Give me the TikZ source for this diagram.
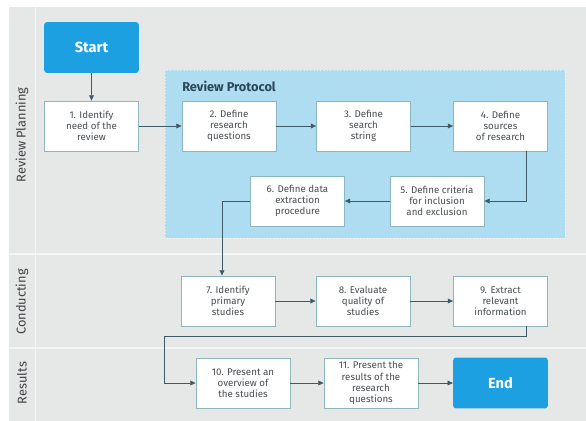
\documentclass[tikz,border=0pt]{standalone}
\usepackage{fontspec}
\setmainfont{Fira Sans}
\usetikzlibrary{arrows.meta,calc}

\definecolor{pagegray}{HTML}{E6E8E7}
\definecolor{lanesep}{HTML}{F4F5F5}
\definecolor{protocolblue}{HTML}{AEDDF1}
\definecolor{startblue}{HTML}{1DA0E2}
\definecolor{boxline}{HTML}{8DB7BE}
\definecolor{flowline}{HTML}{3E5A66}
\definecolor{textgray}{HTML}{4A4F52}
\definecolor{titlenavy}{HTML}{2C4757}

\tikzset{
  stepbox/.style={draw=boxline, line width=0.6pt, fill=white,
    minimum width=70.5pt, minimum height=37.5pt, inner sep=1pt,
    align=center, text=textgray, font=\fontsize{7.3}{8.4}\selectfont},
  termbox/.style={fill=startblue, rounded corners=2pt,
    minimum width=71pt, minimum height=38pt, inner sep=1pt,
    text=white, font=\fontsize{11}{12}\selectfont\bfseries},
  lanelabel/.style={rotate=90, text=textgray!85!black, font=\fontsize{9.6}{11}\selectfont\mdseries},
  flow/.style={draw=flowline, line width=0.6pt,
    -{Triangle[length=4pt,width=3.6pt]}}
}

\begin{document}
\begin{tikzpicture}[x=0.75pt,y=-0.75pt]
\useasboundingbox (0,0) rectangle (586,421);

% page background and swimlanes
\fill[white] (0,0) rectangle (586,421);
\fill[pagegray] (9,7) rectangle (586,421);
\fill[lanesep] (9,252.5) rectangle (586,254.5);
\fill[lanesep] (9,346.5) rectangle (586,348.5);
\fill[lanesep] (34.5,7) rectangle (36,421);

\node[lanelabel] (lp) at (22,135) {Review Planning};
\node[lanelabel] (lc) at (22,302) {Conducting};
\node[lanelabel] (lr) at (22,383) {Results};

% review protocol panel
\fill[protocolblue] (165,70) rectangle (565,238);
\draw[white, line width=0.5pt, dotted, opacity=0.7] (165,70) rectangle (565,238);
\node[anchor=west, inner sep=0pt, text=titlenavy, font=\fontsize{9.6}{11}\selectfont\bfseries]
  (rp) at (182,86) {Review Protocol};

% steps
\node[termbox] (start) at (91.5,47.5) {Start};
\node[stepbox] (b1) at (91.5,126) {1. Identify\\need of the\\review};
\node[stepbox] (b2) at (229,126) {2. Define\\research\\questions};
\node[stepbox] (b3) at (363.5,126) {3. Define\\search\\string};
\node[stepbox] (b4) at (500.5,126) {4. Define\\sources\\of research};
\node[stepbox] (b5) at (437,201) {5. Define criteria\\for inclusion\\and exclusion};
\node[stepbox] (b6) at (297.5,201) {6. Define data\\extraction\\procedure};
\node[stepbox] (b7) at (228,301) {7. Identify\\primary\\studies};
\node[stepbox] (b8) at (363,301) {8. Evaluate\\quality of\\studies};
\node[stepbox] (b9) at (500.5,301) {9. Extract\\relevant\\information};
\node[stepbox] (b10) at (243,383) {10. Present an\\overview of\\the studies};
\node[stepbox] (b11) at (371,383) {11. Present the\\results of the\\research\\questions};
\node[termbox] (end) at (500.5,383) {End};

% connectors
\coordinate (turn) at (164,336);
\draw[flow] (start) -- (b1);
\draw[flow] (b1) -- (b2);
\draw[flow] (b2) -- (b3);
\draw[flow] (b3) -- (b4);
\draw[flow] ($(b4.south)+(26,0)$) |- (b5.east);
\draw[flow] (b5) -- (b6);
\draw[flow] (b6.west) -| ($(b7.north)+(-6,0)$);
\draw[flow] (b7) -- (b8);
\draw[flow] (b8) -- (b9);
\draw[flow] ($(b9.south)+(26,0)$) |- (turn) |- (b10.west);
\draw[flow] (b10) -- (b11);
\draw[flow] (b11) -- (end);
\end{tikzpicture}
\end{document}
